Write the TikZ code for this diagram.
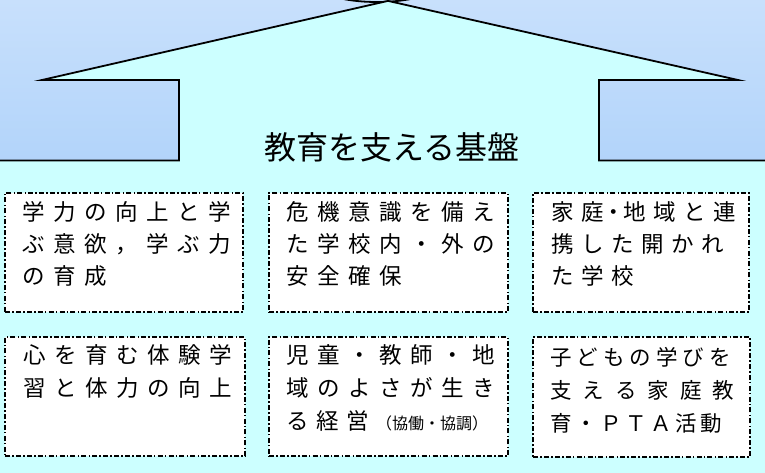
\documentclass[tikz,border=0pt]{standalone}
\usepackage{fontspec}
\setmainfont{Noto Sans CJK JP}
\definecolor{bgtop}{RGB}{200,224,252}
\definecolor{bgbot}{RGB}{178,212,250}
\definecolor{cyanbg}{RGB}{204,255,255}
\def\pitchval{31pt}
\def\sprend{SPREND}
\newcommand\spr[2]{\def\pitchval{#1}\sprA#2\sprend}
\def\sprA#1{\ifx#1\sprend\else\makebox[\pitchval][l]{#1}\expandafter\sprA\fi}
\begin{document}
\begin{tikzpicture}[x=1pt,y=-1pt,
  arrowline/.style={line width=1.8pt, draw=black},
  boxst/.style={draw=black, fill=white, line width=1.5pt,
    dash pattern=on 5pt off 2.2pt on 1.5pt off 2.2pt,
    rectangle, inner sep=0pt},
  ln/.style={anchor=west, inner sep=0pt, font=\fontsize{22.5}{26}\selectfont,
    text height=19.8pt, text depth=2.7pt},
  lnsm/.style={ln, font=\fontsize{21.5}{25}\selectfont,
    text height=18.9pt, text depth=2.6pt},
  titlest/.style={inner sep=0pt, font=\fontsize{32}{36}\selectfont,
    text height=28.2pt, text depth=3.8pt}]
\useasboundingbox (0,0) rectangle (765,473);
% backgrounds
\shade[top color=bgtop, bottom color=bgbot] (0,0) rectangle (765,161);
\fill[cyanbg] (0,160) rectangle (765,473);
% partial ellipse at top
\draw[line width=1.8pt, fill=bgtop] (377,-18) ellipse [x radius=64, y radius=20];
% big arrow
\fill[cyanbg] (179,161) -- (179,80) -- (42,80) -- (388,0.9) -- (738,80) -- (599,80) -- (599,161) -- cycle;
\draw[arrowline] (0,160.5) -- (179,160.5) -- (179,80) -- (42,80) -- (388,0.9) -- (738,80) -- (599,80) -- (599,160.5) -- (765,160.5);
\node[titlest] (title) at (392,147) {教育を支える基盤};
% boxes
\node[boxst, minimum width=238pt, minimum height=119pt] (b1) at (124,252.5) {};
\node[boxst, minimum width=239pt, minimum height=119pt] (b2) at (388.5,252.5) {};
\node[boxst, minimum width=216pt, minimum height=119pt] (b3) at (641,252.5) {};
\node[boxst, minimum width=240pt, minimum height=119pt] (b4) at (125,396.5) {};
\node[boxst, minimum width=239pt, minimum height=119pt] (b5) at (388.5,396.5) {};
\node[boxst, minimum width=217pt, minimum height=120pt] (b6) at (641.5,397) {};
% box 1
\node[ln] (b1a) at (22,212) {\spr{31pt}{学力の向上と学}};
\node[ln] (b1b) at (22,244) {\spr{31pt}{ぶ意欲，学ぶ力}};
\node[ln] (b1c) at (22,276) {\spr{31pt}{の育成}};
% box 2
\node[ln] (b2a) at (286,212) {\spr{31pt}{危機意識を備え}};
\node[ln] (b2b) at (286,244) {\spr{31pt}{た学校内・外の}};
\node[ln] (b2c) at (286,276) {\spr{31pt}{安全確保}};
% box 3
\node[ln] (b3a) at (551,212) {\spr{30pt}{家庭}\makebox[12pt][l]{\hspace{-9pt}・}\spr{30pt}{地域と連}};
\node[ln] (b3b) at (551,244) {\spr{30pt}{携した開かれ}};
\node[ln] (b3c) at (551,276) {\spr{30pt}{た学校}};
% box 4
\node[ln] (b4a) at (23,355) {\spr{31pt}{心を育む体験学}};
\node[ln] (b4b) at (23,388) {\spr{31pt}{習と体力の向上}};
% box 5
\node[ln] (b5a) at (286,355) {\spr{31pt}{児童・教師・地}};
\node[ln] (b5b) at (286,388) {\spr{31pt}{域のよさが生き}};
\node[ln] (b5c) at (286,421) {\spr{30pt}{る経営}{\fontsize{16}{18}\selectfont （協働・協調）}};
% box 6
\node[lnsm] (b6a) at (550,357) {\spr{26.5pt}{子どもの学びを}};
\node[lnsm] (b6b) at (550,390) {\spr{32.5pt}{支える家庭教}};
\node[lnsm] (b6c) at (550,423) {\spr{25pt}{育・ＰＴＡ活動}};
\end{tikzpicture}
\end{document}
